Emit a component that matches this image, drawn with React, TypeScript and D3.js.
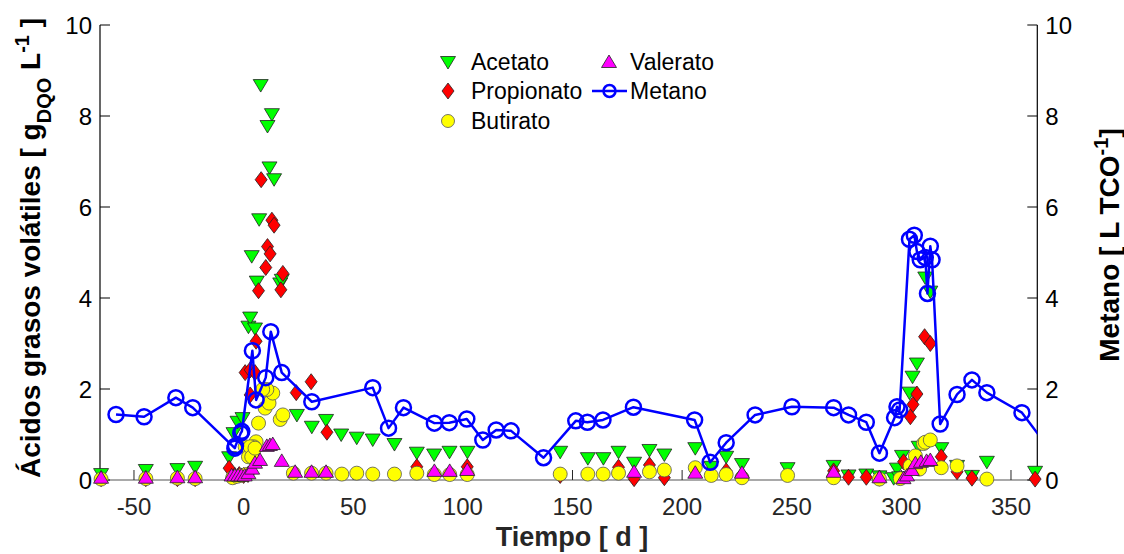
import React from "react";
import * as d3 from "d3";

// [día, valor]
const acetato: [number, number][] = [
  [-65, 0.13], [-44.6, 0.22], [-30.2, 0.24], [-22.1, 0.29], [-6.6, 0.5], [-4.6, 1.03], [-2.8, 1.28], [-0.5, 1.36],
  [2.2, 3.37], [3, 3.57], [5.2, 3.33], [3.7, 4.92], [6, 4.36], [16.7, 4.32], [17.4, 4.4],
  [7.8, 8.68], [12.9, 8.04], [10.9, 7.78], [11.8, 6.87], [13.9, 6.61], [7.1, 5.73],
  [24.3, 1.43], [31.1, 1.17], [37.6, 1.32], [44.5, 1.0], [51.6, 0.93], [58.9, 0.89],
  [68.8, 0.79], [79, 0.6], [86.9, 0.56], [93.9, 0.62], [102.1, 0.62], [144.4, 0.62], [157, 0.48], [164.1, 0.48],
  [171, 0.62], [178.1, 0.38], [185.1, 0.66], [191.9, 0.56], [206, 0.7], [213.3, 0.29], [220.1, 0.51], [227.3, 0.35],
  [248.1, 0.26], [269.1, 0.31], [275.9, 0.1], [284, 0.12], [290, 0.08], [296.5, 0.04], [298, 0.25], [299, 0.06],
  [300.3, 0.53], [303.7, 1.92], [305.1, 2.27], [307.1, 2.56], [307.9, 0.73], [310.9, 4.45], [313.2, 4.14],
  [318.2, 0.7], [325.4, 0.31], [332.2, 0.09], [339, 0.4], [361, 0.18],
];

const propionato: [number, number][] = [
  [-65, 0.03], [-44.6, 0.03], [-30.2, 0.03], [-22.1, 0.03], [-6.6, 0.26], [-4, 0.1], [-2, 0.12], [0, 0.1], [2, 0.12],
  [0.7, 2.36], [3, 2.42], [5.2, 2.36], [5.7, 3.05], [3, 1.87], [6.8, 4.16], [10.1, 4.67], [10.9, 5.13], [12.1, 4.97],
  [17.9, 4.54], [17, 4.18], [24, 1.92], [30.8, 2.16], [38, 1.05], [8, 6.6], [12.9, 5.71], [13.9, 5.6],
  [79, 0.29], [102, 0.29], [144.4, 0.1], [171, 0.28], [178.1, 0.03], [185.1, 0.33], [191.9, 0.05], [220.1, 0.2], [227.3, 0.1],
  [269.1, 0.2], [275.9, 0.06], [284, 0.06], [290, 0.04], [301, 0.4], [304.1, 1.39], [305.3, 1.66], [307.1, 1.89],
  [310.6, 3.15], [313.2, 3.0], [318.2, 0.51], [325.4, 0.18], [332.2, 0.04], [361, 0.02],
];

const butirato: [number, number][] = [
  [-65, 0.02], [-44.6, 0.03], [-30.2, 0.04], [-22.1, 0.03], [-5, 0.05], [-3, 0.08], [-1, 0.1], [1, 0.12],
  [0.7, 0.73], [2.2, 0.51], [5.7, 0.84], [4.6, 0.73], [3, 0.73], [3.7, 0.51], [5.2, 0.7],
  [6.8, 1.25], [9.8, 1.58], [11.6, 1.69], [13.3, 1.91], [10.6, 1.99], [8.7, 1.99], [16.7, 1.33], [17.9, 1.43],
  [22.7, 0.15], [31, 0.15], [37.6, 0.15], [44.8, 0.13], [51.6, 0.15], [58.9, 0.13],
  [68.8, 0.13], [79, 0.15], [87, 0.12], [94, 0.12], [102, 0.12], [144.4, 0.13], [157, 0.13], [164, 0.13], [171, 0.15],
  [185.1, 0.18], [191.9, 0.22], [206, 0.27], [213.3, 0.1], [220.1, 0.12], [227.3, 0.05],
  [248.1, 0.1], [269.1, 0.05], [290, 0.02], [299.5, 0.03], [304, 0.31], [306.4, 0.53], [308.3, 0.24],
  [310.1, 0.8], [310.9, 0.83], [313.2, 0.88], [318.2, 0.27], [325.4, 0.31], [339, 0.02],
];

const valerato: [number, number][] = [
  [-65, 0.05], [-44.6, 0.05], [-30.2, 0.06], [-22.1, 0.06], [-5.5, 0.1], [-4, 0.1], [-2.5, 0.1], [-1, 0.1], [0.5, 0.1],
  [2.2, 0.15], [3.9, 0.25], [5.2, 0.38], [7.5, 0.44], [10.6, 0.75], [12, 0.77], [13.3, 0.79], [17.4, 0.42],
  [23.5, 0.18], [31, 0.18], [37.6, 0.18], [87, 0.2], [94, 0.2], [102, 0.22], [178.1, 0.18], [206, 0.16], [227.3, 0.16],
  [269.1, 0.18], [290, 0.06], [301, 0.04], [302.6, 0.1], [304.8, 0.22], [306.4, 0.37], [308.9, 0.4], [311.5, 0.42], [313.2, 0.44],
];

const metano: [number, number][] = [
  [-58.2, 1.44], [-45.4, 1.39], [-30.9, 1.81], [-23.2, 1.59], [-4, 0.7], [-3.7, 0.75], [-1.3, 1.03], [-0.8, 1.07],
  [4, 2.84], [5.7, 1.76], [10.1, 2.25], [12.4, 3.26], [17.4, 2.36], [31.1, 1.72], [58.9, 2.03],
  [66.1, 1.14], [72.9, 1.59], [87, 1.25], [93.8, 1.26], [101.8, 1.34], [109.1, 0.88], [115.2, 1.1], [122, 1.08],
  [136.8, 0.49], [151.5, 1.3], [156.8, 1.27], [163.9, 1.32], [177.8, 1.6], [205.7, 1.32], [212.8, 0.39], [220.1, 0.82],
  [233.3, 1.43], [250.1, 1.61], [269.1, 1.59], [275.9, 1.43], [284, 1.27], [290, 0.59], [296.9, 1.37], [298, 1.61], [299.2, 1.54],
  [303.7, 5.29], [305.9, 5.38], [307.1, 5.02], [308.6, 4.84], [310.9, 4.89], [311.9, 4.1], [313.2, 5.14], [314, 4.84],
  [317.7, 1.23], [325.4, 1.88], [332.2, 2.2], [339, 1.92], [355, 1.48], [370, 0.52],
];

const xTicks = [-50, 0, 50, 100, 150, 200, 250, 300, 350];
const yTicks = [0, 2, 4, 6, 8, 10];

const W = 1124, H = 554;
const L = 100, R = 1037.3, T = 25, B = 480;
const FONT = "Liberation Sans, Arial, sans-serif";

export default function App() {
  const x = d3.scaleLinear().domain([-65.5, 362]).range([L, R]);
  const y = d3.scaleLinear().domain([0, 10]).range([B, T]);
  const yR = d3.scaleLinear().domain([0, 10]).range([B, T]);
  const line = d3.line<[number, number]>().x(d => x(d[0])).y(d => yR(d[1]));

  const stroke = "#222";
  const sw = 0.8;

  const triDown = (cx: number, cy: number) => `M${cx - 7.5},${cy - 5.5}L${cx + 7.5},${cy - 5.5}L${cx},${cy + 7}Z`;
  const triUp = (cx: number, cy: number) => `M${cx - 7.5},${cy + 5.5}L${cx + 7.5},${cy + 5.5}L${cx},${cy - 7}Z`;
  const diamond = (cx: number, cy: number) => `M${cx},${cy - 8}L${cx + 6},${cy}L${cx},${cy + 8}L${cx - 6},${cy}Z`;

  return (
    <svg width={W} height={H} style={{ position: "absolute", left: 0, top: 0, background: "#fff" }} fontFamily={FONT}>
      <defs>
        <clipPath id="plotclip">
          <rect x={L} y={T - 10} width={R - L} height={B - T + 10} />
        </clipPath>
      </defs>

      {/* axes */}
      <line x1={L} x2={R} y1={B} y2={B} stroke="#8c8c8c" strokeWidth={1.5} />
      <line x1={L} x2={L} y1={T} y2={B} stroke="#000" strokeWidth={1.2} />
      <line x1={R} x2={R} y1={T} y2={B} stroke="#000" strokeWidth={1.2} />
      {xTicks.map(t => (
        <g key={"xt" + t}>
          <line x1={x(t)} x2={x(t)} y1={B} y2={B - 10} stroke="#262626" strokeWidth={1} />
          <text x={x(t)} y={515} textAnchor="middle" fontSize={24} fill="#262626">{t}</text>
        </g>
      ))}
      {yTicks.map(t => (
        <g key={"yt" + t}>
          <line x1={L} x2={L + 10} y1={y(t)} y2={y(t)} stroke="#000" strokeWidth={1} />
          <text x={L - 8} y={y(t) + 8.5} textAnchor="end" fontSize={24} fill="#000">{t}</text>
          <line x1={R} x2={R - 10} y1={yR(t)} y2={yR(t)} stroke="#000" strokeWidth={1} />
          <text x={R + 8} y={yR(t) + 8.5} textAnchor="start" fontSize={24} fill="#000">{t}</text>
        </g>
      ))}

      {/* series */}
      {acetato.map((d, i) => (
        <path key={"a" + i} d={triDown(x(d[0]), y(d[1]))} fill="#00ff00" stroke={stroke} strokeWidth={sw} />
      ))}
      {propionato.map((d, i) => (
        <path key={"p" + i} d={diamond(x(d[0]), y(d[1]))} fill="#ff0000" stroke={stroke} strokeWidth={sw} />
      ))}
      {butirato.map((d, i) => (
        <circle key={"b" + i} cx={x(d[0])} cy={y(d[1])} r={7} fill="#ffff00" stroke="#555" strokeWidth={sw} />
      ))}
      {valerato.map((d, i) => (
        <path key={"v" + i} d={triUp(x(d[0]), y(d[1]))} fill="#ff00ff" stroke={stroke} strokeWidth={sw} />
      ))}
      <g clipPath="url(#plotclip)">
        <path d={line(metano) || ""} fill="none" stroke="#0000ff" strokeWidth={2.5} strokeLinejoin="round" />
      </g>
      {metano.filter(d => d[0] <= 362).map((d, i) => (
        <circle key={"m" + i} cx={x(d[0])} cy={yR(d[1])} r={7.5} fill="none" stroke="#0000ff" strokeWidth={2.5} />
      ))}

      {/* legend */}
      <g fontSize={23} fill="#000">
        <path d={triDown(448, 62)} fill="#00ff00" stroke={stroke} strokeWidth={sw} />
        <text x={471} y={70}>Acetato</text>
        <path d={diamond(448, 91)} fill="#ff0000" stroke={stroke} strokeWidth={sw} />
        <text x={471} y={99}>Propionato</text>
        <circle cx={448} cy={121} r={6.5} fill="#ffff00" stroke="#555" strokeWidth={sw} />
        <text x={471} y={129}>Butirato</text>
        <path d={triUp(609, 62)} fill="#ff00ff" stroke={stroke} strokeWidth={sw} />
        <text x={630} y={70}>Valerato</text>
        <line x1={592} x2={627} y1={91} y2={91} stroke="#0000ff" strokeWidth={2.5} />
        <circle cx={609.5} cy={91} r={6} fill="none" stroke="#0000ff" strokeWidth={2.5} />
        <text x={630} y={99}>Metano</text>
      </g>

      {/* titles */}
      <text x={572} y={546} textAnchor="middle" fontSize={27} fontWeight="bold" fill="#262626">Tiempo [ d ]</text>
      <text transform="translate(40,248) rotate(-90)" textAnchor="middle" fontSize={28} fontWeight="bold" fill="#000">
        Ácidos grasos volátiles [ g<tspan baselineShift="sub" fontSize={20}>DQO</tspan><tspan> L</tspan><tspan baselineShift="super" fontSize={20}>-1</tspan><tspan> ]</tspan>
      </text>
      <text transform="translate(1119,245) rotate(-90)" textAnchor="middle" fontSize={28} fontWeight="bold" fill="#000">
        Metano [ L TCO<tspan baselineShift="super" fontSize={20}>-1</tspan><tspan>]</tspan>
      </text>
    </svg>
  );
}
